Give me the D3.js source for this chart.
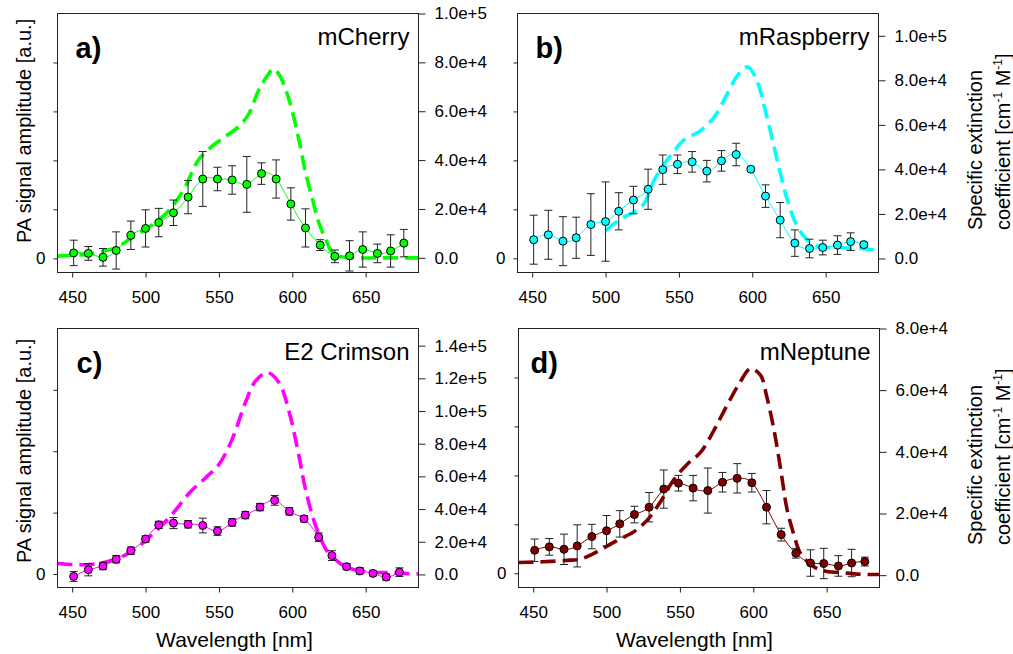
<!DOCTYPE html>
<html><head><meta charset="utf-8">
<script src="https://cdn.jsdelivr.net/npm/d3@7"></script>
<style>
body{margin:0;background:#fff}
text{font-family:"Liberation Sans",Arial,sans-serif;fill:#000}
</style>
</head><body>
<svg id="chart" width="1013" height="654"></svg>
<script>
// ---------- DATA ----------
const wavelengths  = [451,461,471,480,490,500,509,519,529,539,549,559,569,579,589,599,609,619,629,639,648,658,667,676];
const wavelengthsC = [451,461,471,480,490,500,509,519,529,539,549,559,568,578,588,598,608,618,627,637,646,655,664,673];

const paMCherry  = [0.11,0.10,0.02,0.16,0.47,0.61,0.73,0.93,1.25,1.62,1.62,1.60,1.51,1.73,1.62,1.11,0.62,0.27,0.04,0.05,0.18,0.10,0.15,0.31];
const errMCherry = [0.26,0.14,0.18,0.38,0.29,0.38,0.29,0.26,0.34,0.56,0.24,0.29,0.57,0.22,0.39,0.33,0.39,0.11,0.13,0.31,0.36,0.19,0.33,0.28];

const paMRaspberry  = [0.38,0.48,0.35,0.42,0.69,0.75,0.96,1.19,1.41,1.81,1.92,1.97,1.78,1.99,2.12,1.82,1.27,0.78,0.31,0.20,0.22,0.27,0.34,0.28];
const errMRaspberry = [0.50,0.50,0.50,0.42,0.63,0.81,0.38,0.28,0.41,0.30,0.19,0.21,0.22,0.21,0.23,0.03,0.23,0.36,0.27,0.19,0.15,0.19,0.18,0.05];

const paE2Crimson  = [-0.04,0.07,0.13,0.24,0.38,0.57,0.80,0.83,0.81,0.79,0.70,0.84,0.96,1.09,1.20,1.02,0.90,0.60,0.30,0.12,0.05,0.01,-0.05,0.03];
const errE2Crimson = [0.08,0.10,0.06,0.06,0.06,0.05,0.06,0.09,0.06,0.12,0.07,0.06,0.06,0.06,0.08,0.06,0.05,0.07,0.08,0.05,0.05,0.04,0.05,0.07];

const paMNeptune  = [0.47,0.54,0.49,0.56,0.75,0.87,1.01,1.20,1.35,1.72,1.84,1.74,1.69,1.86,1.94,1.85,1.35,0.79,0.41,0.21,0.20,0.15,0.21,0.24];
const errMNeptune = [0.23,0.17,0.31,0.43,0.25,0.31,0.27,0.17,0.30,0.39,0.16,0.26,0.46,0.20,0.30,0.19,0.34,0.13,0.10,0.27,0.31,0.21,0.28,0.09];

const extWlMCherry = [440,450,462,473,480,489,500,509,518,527,536,545,554,563,570,577,583,587,591,596,600,605,609,614,618,623,627,632,641,660,686];
const extMCherry   = [700,1100,1500,3000,4200,7500,11700,15400,20800,29000,40000,45500,49500,53500,58500,68500,74500,77300,75000,68000,60000,47000,35000,23500,14500,7200,2500,700,0,0,0];

const extWlMRaspberry = [500,510,519,526,533,540,547,553,565,574,583,590,597,603,610,617,624,631,638,647,656,667,678,686];
const extMRaspberry   = [12450,17700,20700,24450,35000,42450,48450,53000,57500,63500,74000,82200,86000,80000,63500,44000,26000,14000,8000,5000,5000,4650,4200,3450];

const extWlE2Crimson = [440,450,462,473,484,496,507,518,530,541,550,559,568,575,583,591,598,605,609,616,623,627,636,645,654,668,680,686];
const extE2Crimson   = [6700,6100,6100,7550,10800,17750,26500,36700,50000,59200,67300,82650,105100,118400,123500,117300,99000,70400,52000,29600,15300,11200,4700,2450,1400,1000,400,300];

const extWlMNeptune = [440,450,462,473,482,491,500,509,519,528,537,546,555,564,573,582,591,598,605,609,614,619,623,628,632,641,650,660,669,678,686];
const extMNeptune   = [4130,4240,4460,4800,5200,7000,9350,11700,14200,18000,24000,31100,36000,39800,46800,55000,62600,67000,64800,58250,47400,33300,21300,12600,7200,2800,1200,870,430,220,200];

const xTicks = [450,500,550,600,650];
const paTicks4 = [0,1,2,3,4];
const paTicks3 = [0,1,2,3];
const extTicks1e5 = [0,20000,40000,60000,80000,100000];
const extTicks14  = [0,20000,40000,60000,80000,100000,120000,140000];
const extTicks8   = [0,20000,40000,60000,80000];

const panelLabels = ["a)","b)","c)","d)"];
const proteinNames = ["mCherry","mRaspberry","E2 Crimson","mNeptune"];
const colors = ["#00ff00","#00ffff","#ff00ff","#800000"];

// ---------- LAYOUT ----------
const W = 361, H = 259;
const svg = d3.select("#chart");

const panels = [
  {lab:0, left:57,  top:13,  wl:wavelengths,  pa:paMCherry,    err:errMCherry,    ewl:extWlMCherry,    ext:extMCherry,    paDom:[-0.29,5], paT:paTicks4, exDom:[-6000,100000], exT:extTicks1e5, ldx:18},
  {lab:1, left:517, top:13,  wl:wavelengths,  pa:paMRaspberry, err:errMRaspberry, ewl:extWlMRaspberry, ext:extMRaspberry, paDom:[-0.29,5], paT:paTicks4, exDom:[-6300,110000], exT:extTicks1e5, ldx:18},
  {lab:2, left:57,  top:328, wl:wavelengthsC, pa:paE2Crimson,  err:errE2Crimson,  ewl:extWlE2Crimson,  ext:extE2Crimson,  paDom:[-0.22,4], paT:paTicks3, exDom:[-8000,150500], exT:extTicks14, ldx:19},
  {lab:3, left:518, top:328, wl:wavelengths,  pa:paMNeptune,   err:errMNeptune,   ewl:extWlMNeptune,   ext:extMNeptune,   paDom:[-0.29,5], paT:paTicks4, exDom:[-4000,80000],  exT:extTicks8,  ldx:12}
];

const fmtExt = d => d === 0 ? "0.0" : d.toExponential(1);

panels.forEach((p, i) => {
  const color = colors[p.lab];
  const g = svg.append("g").attr("transform", `translate(${p.left + 0.5},${p.top + 0.5})`);
  const x = d3.scaleLinear().domain([440, 686]).range([0, W]);
  const yL = d3.scaleLinear().domain(p.paDom).range([H, 0]);
  const yR = d3.scaleLinear().domain(p.exDom).range([H, 0]);

  const clipId = "clip" + i;
  g.append("clipPath").attr("id", clipId).append("rect").attr("width", W).attr("height", H);

  // axes
  const xa = g.append("g").attr("transform", `translate(0,${H})`)
    .call(d3.axisBottom(x).tickValues(xTicks).tickSize(5).tickPadding(13));
  const la = g.append("g")
    .call(d3.axisLeft(yL).tickValues(p.paT).tickSize(4).tickPadding(8).tickFormat(d => d === 0 ? "0" : ""));
  const ra = g.append("g").attr("transform", `translate(${W},0)`)
    .call(d3.axisRight(yR).tickValues(p.exT).tickSize(7).tickPadding(9).tickFormat(fmtExt));
  [xa, la, ra].forEach(a => {
    a.select(".domain").remove();
    a.selectAll("line").attr("stroke", "#222");
    a.selectAll("text").attr("font-size", 17).attr("fill", "#000")
      .style("font-family", '"Liberation Sans",Arial,sans-serif');
  });

  const plot = g.append("g").attr("clip-path", `url(#${clipId})`);

  // extinction (dashed)
  const extData = p.ewl.map((w, k) => [w, p.ext[k]]);
  plot.append("path").datum(extData)
    .attr("fill", "none").attr("stroke", color).attr("stroke-width", 3.6)
    .attr("stroke-dasharray", "15,7")
    .attr("d", d3.line().x(d => x(d[0])).y(d => yR(d[1])).curve(d3.curveCatmullRom.alpha(0.5)));

  const paData = p.wl.map((w, k) => ({w, v: p.pa[k], e: p.err[k]}));

  // error bars
  const eb = plot.append("g").attr("stroke", "#222").attr("stroke-width", 1);
  paData.forEach(d => {
    const cx = x(d.w), y1 = yL(d.v + d.e), y2 = yL(d.v - d.e);
    eb.append("line").attr("x1", cx).attr("x2", cx).attr("y1", y1).attr("y2", y2);
    eb.append("line").attr("x1", cx - 4).attr("x2", cx + 4).attr("y1", y1).attr("y2", y1);
    eb.append("line").attr("x1", cx - 4).attr("x2", cx + 4).attr("y1", y2).attr("y2", y2);
  });

  // PA spline line
  plot.append("path").datum(paData)
    .attr("fill", "none").attr("stroke", color).attr("stroke-width", 1)
    .attr("d", d3.line().x(d => x(d.w)).y(d => yL(d.v)).curve(d3.curveNatural));

  // points
  plot.selectAll("circle.pt").data(paData).enter().append("circle")
    .attr("cx", d => x(d.w)).attr("cy", d => yL(d.v)).attr("r", 4)
    .attr("fill", color).attr("stroke", "#000").attr("stroke-width", 1);

  // frame
  g.append("rect").attr("width", W).attr("height", H)
    .attr("fill", "none").attr("stroke", "#222").attr("stroke-width", 1);

  // labels
  g.append("text").attr("x", p.ldx).attr("y", 44)
    .attr("font-size", 29).attr("font-weight", "bold").text(panelLabels[p.lab]);
  g.append("text").attr("x", W - 9).attr("y", 31.5).attr("text-anchor", "end")
    .attr("font-size", 24).text(proteinNames[p.lab]);
});

// axis titles
[[243], [563]].forEach(([y0]) => {
  svg.append("text").attr("transform", `translate(31,${y0}) rotate(-90)`)
    .attr("font-size", 20).text("PA signal amplitude [a.u.]");
});
[230, 545].forEach(y0 => {
  svg.append("text").attr("transform", `translate(982,${y0}) rotate(-90)`)
    .attr("font-size", 20).text("Specific extinction");
  const t = svg.append("text").attr("transform", `translate(1010,${y0}) rotate(-90)`)
    .attr("font-size", 20);
  t.append("tspan").text("coefficient [cm");
  t.append("tspan").attr("font-size", 12).attr("dy", -8).text("-1");
  t.append("tspan").attr("dy", 8).text(" M");
  t.append("tspan").attr("font-size", 12).attr("dy", -8).text("-1");
  t.append("tspan").attr("dy", 8).text("]");
});
[[234.5], [694.5]].forEach(([cx]) => {
  svg.append("text").attr("x", cx).attr("y", 646.5).attr("text-anchor", "middle")
    .attr("font-size", 21).text("Wavelength [nm]");
});
</script>
</body></html>
